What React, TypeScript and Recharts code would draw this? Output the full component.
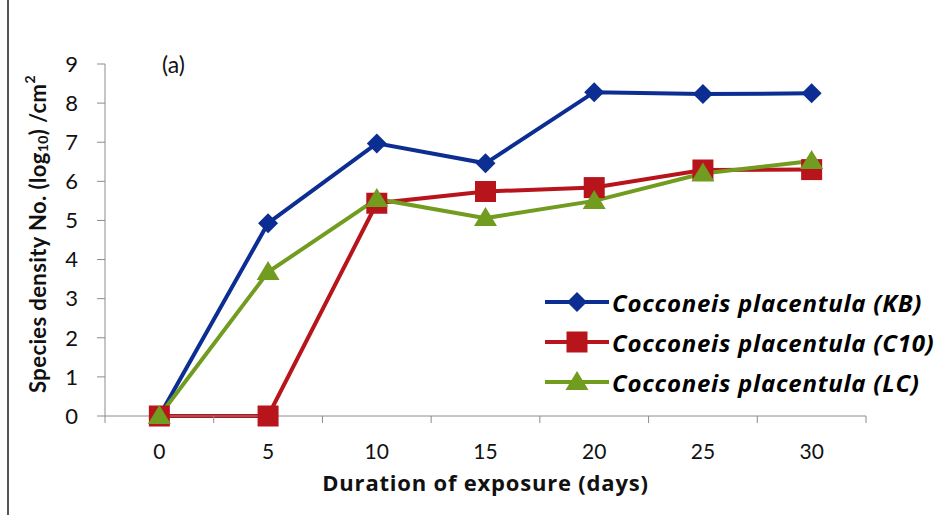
import React from 'react';
import { LineChart, Line, XAxis, YAxis } from 'recharts';

const days = [0, 5, 10, 15, 20, 25, 30];
const kb = [0, 4.93, 6.97, 6.46, 8.28, 8.23, 8.25];
const c10 = [0, 0, 5.44, 5.74, 5.84, 6.29, 6.3];
const lc = [0, 3.68, 5.55, 5.06, 5.5, 6.2, 6.52];
const yTicks = [0, 1, 2, 3, 4, 5, 6, 7, 8, 9];

const series = [
  { key: 'kb', name: 'Cocconeis placentula (KB)', color: '#0c2e92', shape: 'diamond' },
  { key: 'c10', name: 'Cocconeis placentula (C10)', color: '#b8141c', shape: 'square' },
  { key: 'lc', name: 'Cocconeis placentula (LC)', color: '#719c20', shape: 'triangle' },
];

const data = days.map((d, i) => ({ day: d, kb: kb[i], c10: c10[i], lc: lc[i] }));

const W = 943;
const H = 515;
const LEFT = 105;
const RIGHT = 77;
const PLOT_W = W - LEFT - RIGHT;
const HALF_BAND = PLOT_W / days.length / 2;
const AXIS = '#8c8c8c';

const Marker = ({ cx, cy, shape, color }: any) => {
  if (cx == null || cy == null) return null;
  if (shape === 'diamond') {
    const r = 10;
    return <polygon points={`${cx},${cy - r} ${cx + r},${cy} ${cx},${cy + r} ${cx - r},${cy}`} fill={color} />;
  }
  if (shape === 'square') {
    const s = 10.5;
    return <rect x={cx - s} y={cy - s} width={s * 2} height={s * 2} fill={color} />;
  }
  const b = 11.5;
  return <polygon points={`${cx},${cy - 11} ${cx + b},${cy + 8} ${cx - b},${cy + 8}`} fill={color} />;
};

const XTick = ({ x, y, payload, index }: any) => (
  <g>
    <line x1={x + HALF_BAND} x2={x + HALF_BAND} y1={y} y2={y + 7} stroke={AXIS} />
    {index === 0 && <line x1={x - HALF_BAND} x2={x - HALF_BAND} y1={y} y2={y + 7} stroke={AXIS} />}
    <text x={x} y={y + 34} textAnchor="middle" dominantBaseline="central" fontSize={21} fill="#111" fontFamily="Lato, sans-serif">
      {payload.value}
    </text>
  </g>
);

const LegendBox = () => (
  <div style={{ position: 'absolute', left: 545, top: 282, fontFamily: '"Open Sans", sans-serif' }}>
    {series.map((s) => (
      <div key={s.key} style={{ display: 'flex', alignItems: 'center', height: 40 }}>
        <svg width={64} height={24}>
          <line x1={0} x2={64} y1={12} y2={12} stroke={s.color} strokeWidth={4} />
          <Marker cx={32} cy={12} shape={s.shape} color={s.color} />
        </svg>
        <span style={{ fontSize: 24, fontWeight: 700, fontStyle: 'italic', color: '#000', marginLeft: 3, whiteSpace: 'nowrap', letterSpacing: 0.75 }}>{s.name}</span>
      </div>
    ))}
  </div>
);

export default function App() {
  return (
    <div style={{ position: 'absolute', top: 0, left: 0, width: W, height: H, background: '#fff' }}>
      <div style={{ position: 'absolute', left: 7, top: 0, width: 2, height: H, background: '#555' }} />
      <LineChart width={W} height={H} data={data} margin={{ top: 64, right: RIGHT, bottom: 39, left: 0 }}>
        <XAxis
          dataKey="day"
          type="category"
          height={60}
          stroke={AXIS}
          padding={{ left: HALF_BAND, right: HALF_BAND }}
          tickLine={false}
          tickSize={0}
          tickMargin={0}
          interval={0}
          tick={(p: any) => <XTick {...p} />}
          label={{ value: 'Duration of exposure (days)', position: 'insideBottom', offset: -15, fill: '#111', fontSize: 22, fontWeight: 700, letterSpacing: 0.8, fontFamily: '"Open Sans", sans-serif' }}
        />
        <YAxis
          width={LEFT}
          domain={[0, 9]}
          ticks={yTicks}
          interval={0}
          stroke={AXIS}
          tickSize={8}
          tickMargin={19}
          tick={{ fill: '#111', fontSize: 22, fontFamily: 'Lato, sans-serif' }}
          label={(p: any) => {
            const vb = p.viewBox || {};
            const cx = 37;
            const cy = (vb.y ?? 64) + (vb.height ?? 352) / 2 - 6;
            return (
              <text x={cx} y={cy} transform={`rotate(-90 ${cx} ${cy})`} textAnchor="middle" dominantBaseline="central" fontSize={22} fontWeight={700} letterSpacing={0.4} fill="#111" fontFamily="Lato, sans-serif">
                Species density No. (log<tspan fontSize={14} dy={5}>10</tspan><tspan dy={-5}>) /cm</tspan><tspan fontSize={14} dy={-8}>2</tspan>
              </text>
            );
          }}
        />
        {series.map((s) => (
          <Line
            key={s.key}
            dataKey={s.key}
            name={s.name}
            stroke={s.color}
            strokeWidth={4}
            isAnimationActive={false}
            dot={(p: any) => <Marker key={`${s.key}-${p.index}`} cx={p.cx} cy={p.cy} shape={s.shape} color={s.color} />}
            activeDot={false}
          />
        ))}
      </LineChart>
      <LegendBox />
      <div style={{ position: 'absolute', left: 162, top: 50, fontSize: 23, fontFamily: 'Lato, sans-serif', color: '#111' }}>(a)</div>
    </div>
  );
}
